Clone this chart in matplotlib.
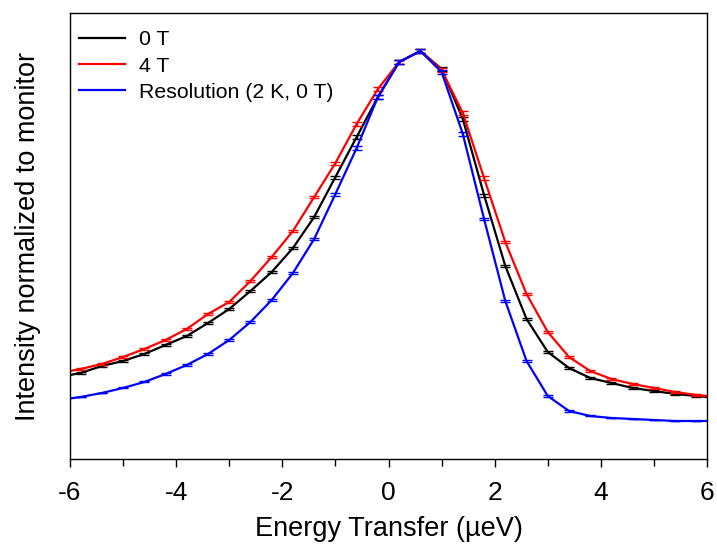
import matplotlib
matplotlib.use("Agg")
import matplotlib.pyplot as plt
import numpy as np
from matplotlib.ticker import MultipleLocator

plt.rcParams['font.family'] = ['Liberation Sans', 'DejaVu Sans']
plt.rcParams['axes.unicode_minus'] = False

# energy transfer (ueV)
energia = [-6.2, -5.8, -5.4, -5.0, -4.6, -4.2, -3.8, -3.4, -3.0, -2.6, -2.2, -1.8,
           -1.4, -1.0, -0.6, -0.2, 0.2, 0.6, 1.0, 1.4, 1.8, 2.2, 2.6, 3.0,
           3.4, 3.8, 4.2, 4.6, 5.0, 5.4, 5.8, 6.2]

# intensities (arb. units)
campo0T = [82, 86, 93, 98, 105, 114, 123, 136, 150, 168, 187, 211,
           242, 282, 322, 362, 397, 408, 390, 340, 264, 193, 140, 107,
           91, 81, 76, 71, 68, 65, 63, 61]
campo4T = [86, 90, 95, 102, 110, 119, 130, 145, 157, 178, 202, 228,
           262, 296, 335, 370, 397, 408, 389, 346, 281, 217, 165, 127,
           102, 88, 80, 75, 71, 67, 64, 62]
resolucion = [59, 62, 66, 71, 77, 85, 94, 105, 119, 137, 159, 186,
              220, 265, 311, 362, 397, 408, 387, 325, 240, 158, 98, 63,
              48, 43, 41, 40, 39, 38, 38, 38]

err0T = [0.6, 0.6, 0.6, 0.7, 0.7, 0.8, 0.8, 1, 1, 1, 1.2, 1.3,
         1.4, 1.5, 1.6, 1.8, 1.8, 1.8, 1.8, 1.7, 1.5, 1.3, 1.2, 1,
         0.9, 0.8, 0.7, 0.6, 0.6, 0.6, 0.6, 0.6]
err4T = [0.6, 0.6, 0.6, 0.7, 0.7, 0.8, 0.9, 1, 1, 1.1, 1.2, 1.3,
         1.4, 1.5, 1.6, 1.8, 1.8, 1.8, 1.8, 1.7, 1.6, 1.4, 1.2, 1,
         0.9, 0.8, 0.7, 0.6, 0.6, 0.6, 0.6, 0.6]
errRes = [0.4, 0.4, 0.4, 0.5, 0.5, 0.6, 0.7, 0.8, 0.9, 1, 1.1, 1.2,
          1.3, 1.5, 1.6, 1.8, 1.8, 1.8, 1.8, 1.6, 1.4, 1.2, 1, 0.8,
          0.6, 0.5, 0.4, 0.4, 0.4, 0.4, 0.4, 0.4]

pico = max(campo0T)

fig = plt.figure(figsize=(7.17, 5.54), dpi=100)
ax = fig.add_axes([0.0976, 0.1715, 0.8885, 0.805])

series = [(campo0T, err0T, 'black', '0 T'),
          (campo4T, err4T, 'red', '4 T'),
          (resolucion, errRes, 'blue', 'Resolution (2 K, 0 T)')]
for datos, err, color, nombre in series:
    y = np.array(datos) / pico
    ax.errorbar(energia, y, yerr=np.array(err) / pico,
                fmt='none', ecolor=color, elinewidth=1, capsize=3.5)
    ax.plot(energia, y, '-', color=color, lw=1.6, label=nombre)

ax.set_xlim(-6, 6)
ax.set_ylim(0, 446 / 408)
ax.xaxis.set_major_locator(MultipleLocator(2))
ax.xaxis.set_minor_locator(MultipleLocator(1))
ax.tick_params(axis='x', which='major', length=6, width=1, labelsize=19, pad=10)
ax.tick_params(axis='x', which='minor', length=5, width=1)
ax.set_yticks([])
for s in ax.spines.values():
    s.set_linewidth(1)

ax.set_xlabel("Energy Transfer (\u00b5eV)", fontsize=19.5, labelpad=8)
ax.set_ylabel("Intensity normalized to monitor", fontsize=19.5, labelpad=21)

ax.legend(loc='upper left', bbox_to_anchor=(0.001, 0.98), borderaxespad=0,
          frameon=False, fontsize=15.3, handlelength=2.16,
          handletextpad=0.66, labelspacing=0.34, borderpad=0.4)

fig.savefig("out.png", dpi=100)
